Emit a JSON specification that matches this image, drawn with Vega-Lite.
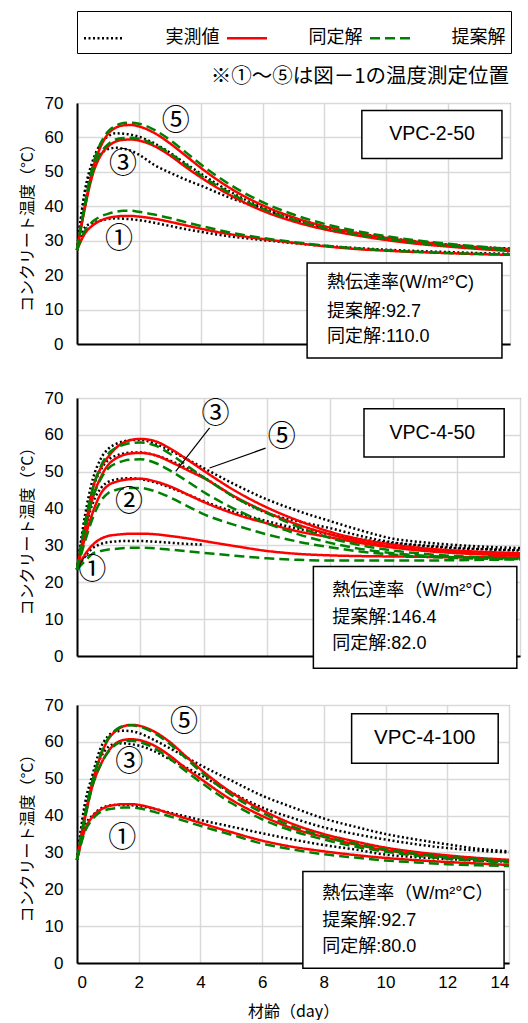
{
"$schema": "https://vega.github.io/schema/vega-lite/v6.json",
"padding": {"left": 18, "top": 10, "right": 0, "bottom": 0},
"config": {
 "font": "Liberation Sans, Noto Sans CJK JP",
 "view": {"stroke": "#404040", "strokeWidth": 1},
 "axis": {"gridColor": "#d9d9d9", "gridWidth": 1.5, "domainColor": "#000000", "domainWidth": 2, "ticks": false, "labelFontSize": 17, "labelColor": "#000000", "titleFontSize": 16, "titleFontWeight": "normal", "titleColor": "#000000", "labelFont": "Liberation Sans", "titleFont": "Noto Sans CJK JP", "labelPadding": 14, "titlePadding": 9, "labelOverlap": false},
 "text": {"font": "Liberation Sans, Noto Sans CJK JP", "fontSize": 16, "color": "#000000"}
},
"datasets": {
"c": [
{"p":1,"k":"5","s":"実測値","d":0,"t":27.3},{"p":1,"k":"5","s":"実測値","d":0.25,"t":44.3},{"p":1,"k":"5","s":"実測値","d":0.5,"t":53},{"p":1,"k":"5","s":"実測値","d":0.75,"t":58},{"p":1,"k":"5","s":"実測値","d":1,"t":60.3},{"p":1,"k":"5","s":"実測値","d":1.25,"t":61.2},{"p":1,"k":"5","s":"実測値","d":1.5,"t":61.1},{"p":1,"k":"5","s":"実測値","d":1.75,"t":60.8},{"p":1,"k":"5","s":"実測値","d":2,"t":60.2},{"p":1,"k":"5","s":"実測値","d":2.5,"t":58.3},{"p":1,"k":"5","s":"実測値","d":3,"t":55.6},{"p":1,"k":"5","s":"実測値","d":3.5,"t":52.5},{"p":1,"k":"5","s":"実測値","d":4,"t":49.5},{"p":1,"k":"5","s":"実測値","d":5,"t":44},{"p":1,"k":"5","s":"実測値","d":6,"t":39.6},{"p":1,"k":"5","s":"実測値","d":7,"t":36.4},{"p":1,"k":"5","s":"実測値","d":8,"t":34.1},{"p":1,"k":"5","s":"実測値","d":9,"t":32.3},{"p":1,"k":"5","s":"実測値","d":10,"t":30.9},{"p":1,"k":"5","s":"実測値","d":11,"t":29.8},{"p":1,"k":"5","s":"実測値","d":12,"t":28.9},{"p":1,"k":"5","s":"実測値","d":13,"t":28.2},{"p":1,"k":"5","s":"実測値","d":14,"t":27.7},
{"p":1,"k":"3","s":"実測値","d":0,"t":27.3},{"p":1,"k":"3","s":"実測値","d":0.25,"t":43.5},{"p":1,"k":"3","s":"実測値","d":0.5,"t":51.5},{"p":1,"k":"3","s":"実測値","d":0.75,"t":55},{"p":1,"k":"3","s":"実測値","d":1,"t":56.6},{"p":1,"k":"3","s":"実測値","d":1.25,"t":57},{"p":1,"k":"3","s":"実測値","d":1.5,"t":56.7},{"p":1,"k":"3","s":"実測値","d":1.75,"t":56.1},{"p":1,"k":"3","s":"実測値","d":2,"t":55},{"p":1,"k":"3","s":"実測値","d":2.5,"t":52},{"p":1,"k":"3","s":"実測値","d":3,"t":49.8},{"p":1,"k":"3","s":"実測値","d":3.5,"t":47.8},{"p":1,"k":"3","s":"実測値","d":4,"t":46},{"p":1,"k":"3","s":"実測値","d":5,"t":42.3},{"p":1,"k":"3","s":"実測値","d":6,"t":39.3},{"p":1,"k":"3","s":"実測値","d":7,"t":36.2},{"p":1,"k":"3","s":"実測値","d":8,"t":33.8},{"p":1,"k":"3","s":"実測値","d":9,"t":32},{"p":1,"k":"3","s":"実測値","d":10,"t":30.6},{"p":1,"k":"3","s":"実測値","d":11,"t":29.5},{"p":1,"k":"3","s":"実測値","d":12,"t":28.6},{"p":1,"k":"3","s":"実測値","d":13,"t":28},{"p":1,"k":"3","s":"実測値","d":14,"t":27.6},
{"p":1,"k":"1","s":"実測値","d":0,"t":27.3},{"p":1,"k":"1","s":"実測値","d":0.25,"t":33.8},{"p":1,"k":"1","s":"実測値","d":0.5,"t":35.2},{"p":1,"k":"1","s":"実測値","d":0.75,"t":35.8},{"p":1,"k":"1","s":"実測値","d":1,"t":36.3},{"p":1,"k":"1","s":"実測値","d":1.25,"t":36.5},{"p":1,"k":"1","s":"実測値","d":1.5,"t":36.4},{"p":1,"k":"1","s":"実測値","d":1.75,"t":36.2},{"p":1,"k":"1","s":"実測値","d":2,"t":36},{"p":1,"k":"1","s":"実測値","d":2.5,"t":35.2},{"p":1,"k":"1","s":"実測値","d":3,"t":34.3},{"p":1,"k":"1","s":"実測値","d":3.5,"t":33.4},{"p":1,"k":"1","s":"実測値","d":4,"t":32.6},{"p":1,"k":"1","s":"実測値","d":5,"t":31.2},{"p":1,"k":"1","s":"実測値","d":6,"t":30.2},{"p":1,"k":"1","s":"実測値","d":7,"t":29.3},{"p":1,"k":"1","s":"実測値","d":8,"t":28.5},{"p":1,"k":"1","s":"実測値","d":9,"t":27.9},{"p":1,"k":"1","s":"実測値","d":10,"t":27.4},{"p":1,"k":"1","s":"実測値","d":11,"t":27},{"p":1,"k":"1","s":"実測値","d":12,"t":26.7},{"p":1,"k":"1","s":"実測値","d":13,"t":26.4},{"p":1,"k":"1","s":"実測値","d":14,"t":26.2},
{"p":1,"k":"5","s":"同定解","d":0,"t":27.3},{"p":1,"k":"5","s":"同定解","d":0.25,"t":39.7},{"p":1,"k":"5","s":"同定解","d":0.5,"t":50.5},{"p":1,"k":"5","s":"同定解","d":0.75,"t":57},{"p":1,"k":"5","s":"同定解","d":1,"t":61},{"p":1,"k":"5","s":"同定解","d":1.25,"t":62.8},{"p":1,"k":"5","s":"同定解","d":1.5,"t":63.5},{"p":1,"k":"5","s":"同定解","d":1.75,"t":63.6},{"p":1,"k":"5","s":"同定解","d":2,"t":63.2},{"p":1,"k":"5","s":"同定解","d":2.5,"t":61.3},{"p":1,"k":"5","s":"同定解","d":3,"t":58.3},{"p":1,"k":"5","s":"同定解","d":3.5,"t":54.8},{"p":1,"k":"5","s":"同定解","d":4,"t":51.2},{"p":1,"k":"5","s":"同定解","d":5,"t":45},{"p":1,"k":"5","s":"同定解","d":6,"t":40.3},{"p":1,"k":"5","s":"同定解","d":7,"t":36.8},{"p":1,"k":"5","s":"同定解","d":8,"t":34.2},{"p":1,"k":"5","s":"同定解","d":9,"t":32.3},{"p":1,"k":"5","s":"同定解","d":10,"t":30.8},{"p":1,"k":"5","s":"同定解","d":11,"t":29.7},{"p":1,"k":"5","s":"同定解","d":12,"t":28.8},{"p":1,"k":"5","s":"同定解","d":13,"t":28.1},{"p":1,"k":"5","s":"同定解","d":14,"t":27.5},
{"p":1,"k":"3","s":"同定解","d":0,"t":27.3},{"p":1,"k":"3","s":"同定解","d":0.25,"t":39.3},{"p":1,"k":"3","s":"同定解","d":0.5,"t":49},{"p":1,"k":"3","s":"同定解","d":0.75,"t":54.5},{"p":1,"k":"3","s":"同定解","d":1,"t":57.3},{"p":1,"k":"3","s":"同定解","d":1.25,"t":58.8},{"p":1,"k":"3","s":"同定解","d":1.5,"t":59.3},{"p":1,"k":"3","s":"同定解","d":1.75,"t":59.4},{"p":1,"k":"3","s":"同定解","d":2,"t":59.1},{"p":1,"k":"3","s":"同定解","d":2.5,"t":57.5},{"p":1,"k":"3","s":"同定解","d":3,"t":54.8},{"p":1,"k":"3","s":"同定解","d":3.5,"t":51.5},{"p":1,"k":"3","s":"同定解","d":4,"t":48.4},{"p":1,"k":"3","s":"同定解","d":5,"t":43},{"p":1,"k":"3","s":"同定解","d":6,"t":38.7},{"p":1,"k":"3","s":"同定解","d":7,"t":35.6},{"p":1,"k":"3","s":"同定解","d":8,"t":33.3},{"p":1,"k":"3","s":"同定解","d":9,"t":31.6},{"p":1,"k":"3","s":"同定解","d":10,"t":30.2},{"p":1,"k":"3","s":"同定解","d":11,"t":29.1},{"p":1,"k":"3","s":"同定解","d":12,"t":28.3},{"p":1,"k":"3","s":"同定解","d":13,"t":27.6},{"p":1,"k":"3","s":"同定解","d":14,"t":27},
{"p":1,"k":"1","s":"同定解","d":0,"t":27.3},{"p":1,"k":"1","s":"同定解","d":0.25,"t":32},{"p":1,"k":"1","s":"同定解","d":0.5,"t":34.4},{"p":1,"k":"1","s":"同定解","d":0.75,"t":35.8},{"p":1,"k":"1","s":"同定解","d":1,"t":36.6},{"p":1,"k":"1","s":"同定解","d":1.25,"t":37},{"p":1,"k":"1","s":"同定解","d":1.5,"t":37.2},{"p":1,"k":"1","s":"同定解","d":1.75,"t":37.2},{"p":1,"k":"1","s":"同定解","d":2,"t":37},{"p":1,"k":"1","s":"同定解","d":2.5,"t":36.4},{"p":1,"k":"1","s":"同定解","d":3,"t":35.5},{"p":1,"k":"1","s":"同定解","d":3.5,"t":34.5},{"p":1,"k":"1","s":"同定解","d":4,"t":33.5},{"p":1,"k":"1","s":"同定解","d":5,"t":31.8},{"p":1,"k":"1","s":"同定解","d":6,"t":30.5},{"p":1,"k":"1","s":"同定解","d":7,"t":29.4},{"p":1,"k":"1","s":"同定解","d":8,"t":28.4},{"p":1,"k":"1","s":"同定解","d":9,"t":27.6},{"p":1,"k":"1","s":"同定解","d":10,"t":27.1},{"p":1,"k":"1","s":"同定解","d":11,"t":26.7},{"p":1,"k":"1","s":"同定解","d":12,"t":26.4},{"p":1,"k":"1","s":"同定解","d":13,"t":26.1},{"p":1,"k":"1","s":"同定解","d":14,"t":25.9},
{"p":1,"k":"5","s":"提案解","d":0,"t":27.3},{"p":1,"k":"5","s":"提案解","d":0.25,"t":40.5},{"p":1,"k":"5","s":"提案解","d":0.5,"t":51.5},{"p":1,"k":"5","s":"提案解","d":0.75,"t":58},{"p":1,"k":"5","s":"提案解","d":1,"t":61.7},{"p":1,"k":"5","s":"提案解","d":1.25,"t":63.4},{"p":1,"k":"5","s":"提案解","d":1.5,"t":64.2},{"p":1,"k":"5","s":"提案解","d":1.75,"t":64.3},{"p":1,"k":"5","s":"提案解","d":2,"t":64},{"p":1,"k":"5","s":"提案解","d":2.5,"t":62.2},{"p":1,"k":"5","s":"提案解","d":3,"t":59.3},{"p":1,"k":"5","s":"提案解","d":3.5,"t":55.8},{"p":1,"k":"5","s":"提案解","d":4,"t":52.2},{"p":1,"k":"5","s":"提案解","d":5,"t":46},{"p":1,"k":"5","s":"提案解","d":6,"t":41.2},{"p":1,"k":"5","s":"提案解","d":7,"t":37.6},{"p":1,"k":"5","s":"提案解","d":8,"t":34.9},{"p":1,"k":"5","s":"提案解","d":9,"t":32.9},{"p":1,"k":"5","s":"提案解","d":10,"t":31.3},{"p":1,"k":"5","s":"提案解","d":11,"t":30.1},{"p":1,"k":"5","s":"提案解","d":12,"t":29.1},{"p":1,"k":"5","s":"提案解","d":13,"t":28.3},{"p":1,"k":"5","s":"提案解","d":14,"t":27.6},
{"p":1,"k":"3","s":"提案解","d":0,"t":27.3},{"p":1,"k":"3","s":"提案解","d":0.25,"t":39.8},{"p":1,"k":"3","s":"提案解","d":0.5,"t":49.8},{"p":1,"k":"3","s":"提案解","d":0.75,"t":55.3},{"p":1,"k":"3","s":"提案解","d":1,"t":58},{"p":1,"k":"3","s":"提案解","d":1.25,"t":59.4},{"p":1,"k":"3","s":"提案解","d":1.5,"t":59.8},{"p":1,"k":"3","s":"提案解","d":1.75,"t":59.9},{"p":1,"k":"3","s":"提案解","d":2,"t":59.6},{"p":1,"k":"3","s":"提案解","d":2.5,"t":58},{"p":1,"k":"3","s":"提案解","d":3,"t":55.4},{"p":1,"k":"3","s":"提案解","d":3.5,"t":52.2},{"p":1,"k":"3","s":"提案解","d":4,"t":49},{"p":1,"k":"3","s":"提案解","d":5,"t":43.6},{"p":1,"k":"3","s":"提案解","d":6,"t":39.3},{"p":1,"k":"3","s":"提案解","d":7,"t":36.1},{"p":1,"k":"3","s":"提案解","d":8,"t":33.7},{"p":1,"k":"3","s":"提案解","d":9,"t":31.9},{"p":1,"k":"3","s":"提案解","d":10,"t":30.5},{"p":1,"k":"3","s":"提案解","d":11,"t":29.4},{"p":1,"k":"3","s":"提案解","d":12,"t":28.5},{"p":1,"k":"3","s":"提案解","d":13,"t":27.8},{"p":1,"k":"3","s":"提案解","d":14,"t":27.2},
{"p":1,"k":"1","s":"提案解","d":0,"t":27.3},{"p":1,"k":"1","s":"提案解","d":0.25,"t":32.8},{"p":1,"k":"1","s":"提案解","d":0.5,"t":35.5},{"p":1,"k":"1","s":"提案解","d":0.75,"t":37},{"p":1,"k":"1","s":"提案解","d":1,"t":37.8},{"p":1,"k":"1","s":"提案解","d":1.25,"t":38.4},{"p":1,"k":"1","s":"提案解","d":1.5,"t":38.7},{"p":1,"k":"1","s":"提案解","d":1.75,"t":38.7},{"p":1,"k":"1","s":"提案解","d":2,"t":38.4},{"p":1,"k":"1","s":"提案解","d":2.5,"t":37.6},{"p":1,"k":"1","s":"提案解","d":3,"t":36.6},{"p":1,"k":"1","s":"提案解","d":3.5,"t":35.4},{"p":1,"k":"1","s":"提案解","d":4,"t":34.3},{"p":1,"k":"1","s":"提案解","d":5,"t":32.3},{"p":1,"k":"1","s":"提案解","d":6,"t":30.8},{"p":1,"k":"1","s":"提案解","d":7,"t":29.6},{"p":1,"k":"1","s":"提案解","d":8,"t":28.6},{"p":1,"k":"1","s":"提案解","d":9,"t":27.8},{"p":1,"k":"1","s":"提案解","d":10,"t":27.2},{"p":1,"k":"1","s":"提案解","d":11,"t":26.8},{"p":1,"k":"1","s":"提案解","d":12,"t":26.4},{"p":1,"k":"1","s":"提案解","d":13,"t":26.2},{"p":1,"k":"1","s":"提案解","d":14,"t":26},

{"p":2,"k":"5","s":"実測値","d":0,"t":23.5},{"p":2,"k":"5","s":"実測値","d":0.25,"t":38},{"p":2,"k":"5","s":"実測値","d":0.5,"t":48},{"p":2,"k":"5","s":"実測値","d":0.75,"t":53.5},{"p":2,"k":"5","s":"実測値","d":1,"t":56.3},{"p":2,"k":"5","s":"実測値","d":1.25,"t":57.6},{"p":2,"k":"5","s":"実測値","d":1.5,"t":58.3},{"p":2,"k":"5","s":"実測値","d":1.75,"t":58.6},{"p":2,"k":"5","s":"実測値","d":2,"t":58.6},{"p":2,"k":"5","s":"実測値","d":2.5,"t":57.5},{"p":2,"k":"5","s":"実測値","d":3,"t":55.5},{"p":2,"k":"5","s":"実測値","d":3.5,"t":53.3},{"p":2,"k":"5","s":"実測値","d":4,"t":51},{"p":2,"k":"5","s":"実測値","d":5,"t":46.5},{"p":2,"k":"5","s":"実測値","d":6,"t":42.5},{"p":2,"k":"5","s":"実測値","d":7,"t":39.3},{"p":2,"k":"5","s":"実測値","d":8,"t":36.6},{"p":2,"k":"5","s":"実測値","d":9,"t":34},{"p":2,"k":"5","s":"実測値","d":10,"t":31.8},{"p":2,"k":"5","s":"実測値","d":11,"t":30.8},{"p":2,"k":"5","s":"実測値","d":12,"t":30.1},{"p":2,"k":"5","s":"実測値","d":13,"t":29.6},{"p":2,"k":"5","s":"実測値","d":14,"t":29.3},
{"p":2,"k":"3","s":"実測値","d":0,"t":23.5},{"p":2,"k":"3","s":"実測値","d":0.25,"t":37},{"p":2,"k":"3","s":"実測値","d":0.5,"t":45.5},{"p":2,"k":"3","s":"実測値","d":0.75,"t":50.5},{"p":2,"k":"3","s":"実測値","d":1,"t":53.3},{"p":2,"k":"3","s":"実測値","d":1.25,"t":54.4},{"p":2,"k":"3","s":"実測値","d":1.5,"t":55},{"p":2,"k":"3","s":"実測値","d":1.75,"t":55.2},{"p":2,"k":"3","s":"実測値","d":2,"t":55.2},{"p":2,"k":"3","s":"実測値","d":2.5,"t":54.4},{"p":2,"k":"3","s":"実測値","d":3,"t":52.8},{"p":2,"k":"3","s":"実測値","d":3.5,"t":50.8},{"p":2,"k":"3","s":"実測値","d":4,"t":48.5},{"p":2,"k":"3","s":"実測値","d":5,"t":43},{"p":2,"k":"3","s":"実測値","d":6,"t":38.8},{"p":2,"k":"3","s":"実測値","d":7,"t":36.5},{"p":2,"k":"3","s":"実測値","d":8,"t":34.7},{"p":2,"k":"3","s":"実測値","d":9,"t":32.5},{"p":2,"k":"3","s":"実測値","d":10,"t":30.8},{"p":2,"k":"3","s":"実測値","d":11,"t":30},{"p":2,"k":"3","s":"実測値","d":12,"t":29.4},{"p":2,"k":"3","s":"実測値","d":13,"t":29},{"p":2,"k":"3","s":"実測値","d":14,"t":28.8},
{"p":2,"k":"2","s":"実測値","d":0,"t":23.5},{"p":2,"k":"2","s":"実測値","d":0.25,"t":34},{"p":2,"k":"2","s":"実測値","d":0.5,"t":41.5},{"p":2,"k":"2","s":"実測値","d":0.75,"t":45.5},{"p":2,"k":"2","s":"実測値","d":1,"t":47.3},{"p":2,"k":"2","s":"実測値","d":1.25,"t":47.9},{"p":2,"k":"2","s":"実測値","d":1.5,"t":48.2},{"p":2,"k":"2","s":"実測値","d":1.75,"t":48.2},{"p":2,"k":"2","s":"実測値","d":2,"t":48},{"p":2,"k":"2","s":"実測値","d":2.5,"t":47},{"p":2,"k":"2","s":"実測値","d":3,"t":45.5},{"p":2,"k":"2","s":"実測値","d":3.5,"t":43.8},{"p":2,"k":"2","s":"実測値","d":4,"t":42},{"p":2,"k":"2","s":"実測値","d":5,"t":39},{"p":2,"k":"2","s":"実測値","d":6,"t":36.6},{"p":2,"k":"2","s":"実測値","d":7,"t":34.5},{"p":2,"k":"2","s":"実測値","d":8,"t":33},{"p":2,"k":"2","s":"実測値","d":9,"t":31.6},{"p":2,"k":"2","s":"実測値","d":10,"t":30.6},{"p":2,"k":"2","s":"実測値","d":11,"t":29.8},{"p":2,"k":"2","s":"実測値","d":12,"t":29.2},{"p":2,"k":"2","s":"実測値","d":13,"t":28.9},{"p":2,"k":"2","s":"実測値","d":14,"t":28.6},
{"p":2,"k":"1","s":"実測値","d":0,"t":23.5},{"p":2,"k":"1","s":"実測値","d":0.25,"t":27},{"p":2,"k":"1","s":"実測値","d":0.5,"t":29.3},{"p":2,"k":"1","s":"実測値","d":0.75,"t":30.4},{"p":2,"k":"1","s":"実測値","d":1,"t":30.9},{"p":2,"k":"1","s":"実測値","d":1.25,"t":31.1},{"p":2,"k":"1","s":"実測値","d":1.5,"t":31.2},{"p":2,"k":"1","s":"実測値","d":1.75,"t":31.2},{"p":2,"k":"1","s":"実測値","d":2,"t":31.2},{"p":2,"k":"1","s":"実測値","d":2.5,"t":31},{"p":2,"k":"1","s":"実測値","d":3,"t":30.7},{"p":2,"k":"1","s":"実測値","d":3.5,"t":30.4},{"p":2,"k":"1","s":"実測値","d":4,"t":30.2},
{"p":2,"k":"5","s":"同定解","d":0,"t":23.5},{"p":2,"k":"5","s":"同定解","d":0.25,"t":34.5},{"p":2,"k":"5","s":"同定解","d":0.5,"t":45.5},{"p":2,"k":"5","s":"同定解","d":0.75,"t":51},{"p":2,"k":"5","s":"同定解","d":1,"t":54.2},{"p":2,"k":"5","s":"同定解","d":1.25,"t":56.6},{"p":2,"k":"5","s":"同定解","d":1.5,"t":58},{"p":2,"k":"5","s":"同定解","d":1.75,"t":58.7},{"p":2,"k":"5","s":"同定解","d":2,"t":58.9},{"p":2,"k":"5","s":"同定解","d":2.5,"t":58.2},{"p":2,"k":"5","s":"同定解","d":3,"t":56},{"p":2,"k":"5","s":"同定解","d":3.5,"t":53.2},{"p":2,"k":"5","s":"同定解","d":4,"t":50.3},{"p":2,"k":"5","s":"同定解","d":5,"t":44.8},{"p":2,"k":"5","s":"同定解","d":6,"t":40.3},{"p":2,"k":"5","s":"同定解","d":7,"t":36.7},{"p":2,"k":"5","s":"同定解","d":8,"t":33.7},{"p":2,"k":"5","s":"同定解","d":9,"t":31.6},{"p":2,"k":"5","s":"同定解","d":10,"t":30.2},{"p":2,"k":"5","s":"同定解","d":11,"t":29.2},{"p":2,"k":"5","s":"同定解","d":12,"t":28.6},{"p":2,"k":"5","s":"同定解","d":13,"t":28.2},{"p":2,"k":"5","s":"同定解","d":14,"t":27.9},
{"p":2,"k":"3","s":"同定解","d":0,"t":23.5},{"p":2,"k":"3","s":"同定解","d":0.25,"t":34},{"p":2,"k":"3","s":"同定解","d":0.5,"t":43},{"p":2,"k":"3","s":"同定解","d":0.75,"t":48.5},{"p":2,"k":"3","s":"同定解","d":1,"t":52},{"p":2,"k":"3","s":"同定解","d":1.25,"t":53.7},{"p":2,"k":"3","s":"同定解","d":1.5,"t":54.6},{"p":2,"k":"3","s":"同定解","d":1.75,"t":55},{"p":2,"k":"3","s":"同定解","d":2,"t":55.1},{"p":2,"k":"3","s":"同定解","d":2.5,"t":54.4},{"p":2,"k":"3","s":"同定解","d":3,"t":52.5},{"p":2,"k":"3","s":"同定解","d":3.5,"t":50.4},{"p":2,"k":"3","s":"同定解","d":4,"t":48.3},{"p":2,"k":"3","s":"同定解","d":5,"t":43.2},{"p":2,"k":"3","s":"同定解","d":6,"t":39},{"p":2,"k":"3","s":"同定解","d":7,"t":35.6},{"p":2,"k":"3","s":"同定解","d":8,"t":33},{"p":2,"k":"3","s":"同定解","d":9,"t":31},{"p":2,"k":"3","s":"同定解","d":10,"t":29.6},{"p":2,"k":"3","s":"同定解","d":11,"t":28.7},{"p":2,"k":"3","s":"同定解","d":12,"t":28.1},{"p":2,"k":"3","s":"同定解","d":13,"t":27.7},{"p":2,"k":"3","s":"同定解","d":14,"t":27.4},
{"p":2,"k":"2","s":"同定解","d":0,"t":23.5},{"p":2,"k":"2","s":"同定解","d":0.25,"t":32},{"p":2,"k":"2","s":"同定解","d":0.5,"t":39},{"p":2,"k":"2","s":"同定解","d":0.75,"t":44},{"p":2,"k":"2","s":"同定解","d":1,"t":46.4},{"p":2,"k":"2","s":"同定解","d":1.25,"t":47.3},{"p":2,"k":"2","s":"同定解","d":1.5,"t":47.8},{"p":2,"k":"2","s":"同定解","d":1.75,"t":48},{"p":2,"k":"2","s":"同定解","d":2,"t":48.1},{"p":2,"k":"2","s":"同定解","d":2.5,"t":47.3},{"p":2,"k":"2","s":"同定解","d":3,"t":45.8},{"p":2,"k":"2","s":"同定解","d":3.5,"t":43.8},{"p":2,"k":"2","s":"同定解","d":4,"t":41.8},{"p":2,"k":"2","s":"同定解","d":5,"t":38.5},{"p":2,"k":"2","s":"同定解","d":6,"t":36},{"p":2,"k":"2","s":"同定解","d":7,"t":33.8},{"p":2,"k":"2","s":"同定解","d":8,"t":32.2},{"p":2,"k":"2","s":"同定解","d":9,"t":30.6},{"p":2,"k":"2","s":"同定解","d":10,"t":29.4},{"p":2,"k":"2","s":"同定解","d":11,"t":28.5},{"p":2,"k":"2","s":"同定解","d":12,"t":27.9},{"p":2,"k":"2","s":"同定解","d":13,"t":27.5},{"p":2,"k":"2","s":"同定解","d":14,"t":27.2},
{"p":2,"k":"1","s":"同定解","d":0,"t":23.5},{"p":2,"k":"1","s":"同定解","d":0.25,"t":27.5},{"p":2,"k":"1","s":"同定解","d":0.5,"t":30.2},{"p":2,"k":"1","s":"同定解","d":0.75,"t":31.8},{"p":2,"k":"1","s":"同定解","d":1,"t":32.6},{"p":2,"k":"1","s":"同定解","d":1.25,"t":32.9},{"p":2,"k":"1","s":"同定解","d":1.5,"t":33.1},{"p":2,"k":"1","s":"同定解","d":1.75,"t":33.2},{"p":2,"k":"1","s":"同定解","d":2,"t":33.2},{"p":2,"k":"1","s":"同定解","d":2.5,"t":33},{"p":2,"k":"1","s":"同定解","d":3,"t":32.5},{"p":2,"k":"1","s":"同定解","d":3.5,"t":31.9},{"p":2,"k":"1","s":"同定解","d":4,"t":31.2},{"p":2,"k":"1","s":"同定解","d":5,"t":29.8},{"p":2,"k":"1","s":"同定解","d":6,"t":28.5},{"p":2,"k":"1","s":"同定解","d":7,"t":27.7},{"p":2,"k":"1","s":"同定解","d":8,"t":27.3},{"p":2,"k":"1","s":"同定解","d":9,"t":27.1},{"p":2,"k":"1","s":"同定解","d":10,"t":27},{"p":2,"k":"1","s":"同定解","d":11,"t":26.9},{"p":2,"k":"1","s":"同定解","d":12,"t":26.8},{"p":2,"k":"1","s":"同定解","d":13,"t":26.8},{"p":2,"k":"1","s":"同定解","d":14,"t":26.7},
{"p":2,"k":"5","s":"提案解","d":0,"t":23.5},{"p":2,"k":"5","s":"提案解","d":0.25,"t":36},{"p":2,"k":"5","s":"提案解","d":0.5,"t":45.5},{"p":2,"k":"5","s":"提案解","d":0.75,"t":51.5},{"p":2,"k":"5","s":"提案解","d":1,"t":55},{"p":2,"k":"5","s":"提案解","d":1.25,"t":56.6},{"p":2,"k":"5","s":"提案解","d":1.5,"t":57.4},{"p":2,"k":"5","s":"提案解","d":1.75,"t":57.8},{"p":2,"k":"5","s":"提案解","d":2,"t":57.9},{"p":2,"k":"5","s":"提案解","d":2.5,"t":57},{"p":2,"k":"5","s":"提案解","d":3,"t":54.5},{"p":2,"k":"5","s":"提案解","d":3.5,"t":51.5},{"p":2,"k":"5","s":"提案解","d":4,"t":48.5},{"p":2,"k":"5","s":"提案解","d":5,"t":43},{"p":2,"k":"5","s":"提案解","d":6,"t":38.8},{"p":2,"k":"5","s":"提案解","d":7,"t":35},{"p":2,"k":"5","s":"提案解","d":8,"t":32},{"p":2,"k":"5","s":"提案解","d":9,"t":30},{"p":2,"k":"5","s":"提案解","d":10,"t":28.6},{"p":2,"k":"5","s":"提案解","d":11,"t":27.7},{"p":2,"k":"5","s":"提案解","d":12,"t":27.1},{"p":2,"k":"5","s":"提案解","d":13,"t":26.7},{"p":2,"k":"5","s":"提案解","d":14,"t":26.5},
{"p":2,"k":"3","s":"提案解","d":0,"t":23.5},{"p":2,"k":"3","s":"提案解","d":0.25,"t":35},{"p":2,"k":"3","s":"提案解","d":0.5,"t":43},{"p":2,"k":"3","s":"提案解","d":0.75,"t":48},{"p":2,"k":"3","s":"提案解","d":1,"t":51},{"p":2,"k":"3","s":"提案解","d":1.25,"t":52.3},{"p":2,"k":"3","s":"提案解","d":1.5,"t":53},{"p":2,"k":"3","s":"提案解","d":1.75,"t":53.3},{"p":2,"k":"3","s":"提案解","d":2,"t":53.4},{"p":2,"k":"3","s":"提案解","d":2.5,"t":52.3},{"p":2,"k":"3","s":"提案解","d":3,"t":50},{"p":2,"k":"3","s":"提案解","d":3.5,"t":47.3},{"p":2,"k":"3","s":"提案解","d":4,"t":44.5},{"p":2,"k":"3","s":"提案解","d":5,"t":39.8},{"p":2,"k":"3","s":"提案解","d":6,"t":36},{"p":2,"k":"3","s":"提案解","d":7,"t":33},{"p":2,"k":"3","s":"提案解","d":8,"t":30.7},{"p":2,"k":"3","s":"提案解","d":9,"t":29},{"p":2,"k":"3","s":"提案解","d":10,"t":27.9},{"p":2,"k":"3","s":"提案解","d":11,"t":27.2},{"p":2,"k":"3","s":"提案解","d":12,"t":26.8},{"p":2,"k":"3","s":"提案解","d":13,"t":26.5},{"p":2,"k":"3","s":"提案解","d":14,"t":26.4},
{"p":2,"k":"2","s":"提案解","d":0,"t":23.5},{"p":2,"k":"2","s":"提案解","d":0.25,"t":31},{"p":2,"k":"2","s":"提案解","d":0.5,"t":37.5},{"p":2,"k":"2","s":"提案解","d":0.75,"t":42},{"p":2,"k":"2","s":"提案解","d":1,"t":44.3},{"p":2,"k":"2","s":"提案解","d":1.25,"t":45.1},{"p":2,"k":"2","s":"提案解","d":1.5,"t":45.5},{"p":2,"k":"2","s":"提案解","d":1.75,"t":45.6},{"p":2,"k":"2","s":"提案解","d":2,"t":45.6},{"p":2,"k":"2","s":"提案解","d":2.5,"t":44.6},{"p":2,"k":"2","s":"提案解","d":3,"t":42.8},{"p":2,"k":"2","s":"提案解","d":3.5,"t":40.6},{"p":2,"k":"2","s":"提案解","d":4,"t":38.5},{"p":2,"k":"2","s":"提案解","d":5,"t":35.5},{"p":2,"k":"2","s":"提案解","d":6,"t":33},{"p":2,"k":"2","s":"提案解","d":7,"t":31},{"p":2,"k":"2","s":"提案解","d":8,"t":29.5},{"p":2,"k":"2","s":"提案解","d":9,"t":28.3},{"p":2,"k":"2","s":"提案解","d":10,"t":27.5},{"p":2,"k":"2","s":"提案解","d":11,"t":26.9},{"p":2,"k":"2","s":"提案解","d":12,"t":26.6},{"p":2,"k":"2","s":"提案解","d":13,"t":26.4},{"p":2,"k":"2","s":"提案解","d":14,"t":26.3},
{"p":2,"k":"1","s":"提案解","d":0,"t":23.5},{"p":2,"k":"1","s":"提案解","d":0.25,"t":25.7},{"p":2,"k":"1","s":"提案解","d":0.5,"t":27.8},{"p":2,"k":"1","s":"提案解","d":0.75,"t":28.5},{"p":2,"k":"1","s":"提案解","d":1,"t":28.9},{"p":2,"k":"1","s":"提案解","d":1.25,"t":29.1},{"p":2,"k":"1","s":"提案解","d":1.5,"t":29.3},{"p":2,"k":"1","s":"提案解","d":1.75,"t":29.4},{"p":2,"k":"1","s":"提案解","d":2,"t":29.4},{"p":2,"k":"1","s":"提案解","d":2.5,"t":29.2},{"p":2,"k":"1","s":"提案解","d":3,"t":28.8},{"p":2,"k":"1","s":"提案解","d":3.5,"t":28.4},{"p":2,"k":"1","s":"提案解","d":4,"t":28},{"p":2,"k":"1","s":"提案解","d":5,"t":27.2},{"p":2,"k":"1","s":"提案解","d":6,"t":26.5},{"p":2,"k":"1","s":"提案解","d":7,"t":26.1},{"p":2,"k":"1","s":"提案解","d":8,"t":25.9},{"p":2,"k":"1","s":"提案解","d":9,"t":25.9},{"p":2,"k":"1","s":"提案解","d":10,"t":25.9},{"p":2,"k":"1","s":"提案解","d":11,"t":25.9},{"p":2,"k":"1","s":"提案解","d":12,"t":26},{"p":2,"k":"1","s":"提案解","d":13,"t":26.1},{"p":2,"k":"1","s":"提案解","d":14,"t":26.2},

{"p":3,"k":"5","s":"実測値","d":0,"t":28},{"p":3,"k":"5","s":"実測値","d":0.25,"t":43},{"p":3,"k":"5","s":"実測値","d":0.5,"t":51},{"p":3,"k":"5","s":"実測値","d":0.75,"t":58},{"p":3,"k":"5","s":"実測値","d":1,"t":61.5},{"p":3,"k":"5","s":"実測値","d":1.25,"t":62.8},{"p":3,"k":"5","s":"実測値","d":1.5,"t":63},{"p":3,"k":"5","s":"実測値","d":1.75,"t":62.9},{"p":3,"k":"5","s":"実測値","d":2,"t":62.4},{"p":3,"k":"5","s":"実測値","d":2.5,"t":60.5},{"p":3,"k":"5","s":"実測値","d":3,"t":58.3},{"p":3,"k":"5","s":"実測値","d":3.5,"t":56},{"p":3,"k":"5","s":"実測値","d":4,"t":53.7},{"p":3,"k":"5","s":"実測値","d":5,"t":49.5},{"p":3,"k":"5","s":"実測値","d":6,"t":45.4},{"p":3,"k":"5","s":"実測値","d":7,"t":42.2},{"p":3,"k":"5","s":"実測値","d":8,"t":39.2},{"p":3,"k":"5","s":"実測値","d":9,"t":37},{"p":3,"k":"5","s":"実測値","d":10,"t":35},{"p":3,"k":"5","s":"実測値","d":11,"t":33.5},{"p":3,"k":"5","s":"実測値","d":12,"t":32.2},{"p":3,"k":"5","s":"実測値","d":13,"t":31},{"p":3,"k":"5","s":"実測値","d":14,"t":30.3},
{"p":3,"k":"3","s":"実測値","d":0,"t":28},{"p":3,"k":"3","s":"実測値","d":0.25,"t":42},{"p":3,"k":"3","s":"実測値","d":0.5,"t":50},{"p":3,"k":"3","s":"実測値","d":0.75,"t":55.5},{"p":3,"k":"3","s":"実測値","d":1,"t":58.5},{"p":3,"k":"3","s":"実測値","d":1.25,"t":59.5},{"p":3,"k":"3","s":"実測値","d":1.5,"t":59.6},{"p":3,"k":"3","s":"実測値","d":1.75,"t":59.4},{"p":3,"k":"3","s":"実測値","d":2,"t":59},{"p":3,"k":"3","s":"実測値","d":2.5,"t":57.5},{"p":3,"k":"3","s":"実測値","d":3,"t":55.3},{"p":3,"k":"3","s":"実測値","d":3.5,"t":53.2},{"p":3,"k":"3","s":"実測値","d":4,"t":51},{"p":3,"k":"3","s":"実測値","d":5,"t":46.3},{"p":3,"k":"3","s":"実測値","d":6,"t":42.2},{"p":3,"k":"3","s":"実測値","d":7,"t":39.3},{"p":3,"k":"3","s":"実測値","d":8,"t":36.8},{"p":3,"k":"3","s":"実測値","d":9,"t":35},{"p":3,"k":"3","s":"実測値","d":10,"t":33.5},{"p":3,"k":"3","s":"実測値","d":11,"t":32.2},{"p":3,"k":"3","s":"実測値","d":12,"t":31.2},{"p":3,"k":"3","s":"実測値","d":13,"t":30.5},{"p":3,"k":"3","s":"実測値","d":14,"t":30},
{"p":3,"k":"1","s":"実測値","d":0,"t":28},{"p":3,"k":"1","s":"実測値","d":0.25,"t":37},{"p":3,"k":"1","s":"実測値","d":0.5,"t":40},{"p":3,"k":"1","s":"実測値","d":0.75,"t":41.8},{"p":3,"k":"1","s":"実測値","d":1,"t":42.6},{"p":3,"k":"1","s":"実測値","d":1.25,"t":42.9},{"p":3,"k":"1","s":"実測値","d":1.5,"t":42.9},{"p":3,"k":"1","s":"実測値","d":1.75,"t":42.8},{"p":3,"k":"1","s":"実測値","d":2,"t":42.6},{"p":3,"k":"1","s":"実測値","d":2.5,"t":41.8},{"p":3,"k":"1","s":"実測値","d":3,"t":40.8},{"p":3,"k":"1","s":"実測値","d":3.5,"t":39.8},{"p":3,"k":"1","s":"実測値","d":4,"t":38.8},{"p":3,"k":"1","s":"実測値","d":5,"t":37},{"p":3,"k":"1","s":"実測値","d":6,"t":35.2},{"p":3,"k":"1","s":"実測値","d":7,"t":33.5},{"p":3,"k":"1","s":"実測値","d":8,"t":32},{"p":3,"k":"1","s":"実測値","d":9,"t":30.8},{"p":3,"k":"1","s":"実測値","d":10,"t":29.4},{"p":3,"k":"1","s":"実測値","d":11,"t":28.7},{"p":3,"k":"1","s":"実測値","d":12,"t":28.2},{"p":3,"k":"1","s":"実測値","d":13,"t":27.8},{"p":3,"k":"1","s":"実測値","d":14,"t":27.5},
{"p":3,"k":"5","s":"同定解","d":0,"t":28},{"p":3,"k":"5","s":"同定解","d":0.25,"t":39.5},{"p":3,"k":"5","s":"同定解","d":0.5,"t":49},{"p":3,"k":"5","s":"同定解","d":0.75,"t":55.8},{"p":3,"k":"5","s":"同定解","d":1,"t":60.5},{"p":3,"k":"5","s":"同定解","d":1.25,"t":62.9},{"p":3,"k":"5","s":"同定解","d":1.5,"t":64.2},{"p":3,"k":"5","s":"同定解","d":1.75,"t":64.6},{"p":3,"k":"5","s":"同定解","d":2,"t":64.4},{"p":3,"k":"5","s":"同定解","d":2.5,"t":62.8},{"p":3,"k":"5","s":"同定解","d":3,"t":60},{"p":3,"k":"5","s":"同定解","d":3.5,"t":56.3},{"p":3,"k":"5","s":"同定解","d":4,"t":52.6},{"p":3,"k":"5","s":"同定解","d":5,"t":46.3},{"p":3,"k":"5","s":"同定解","d":6,"t":41.5},{"p":3,"k":"5","s":"同定解","d":7,"t":37.7},{"p":3,"k":"5","s":"同定解","d":8,"t":35},{"p":3,"k":"5","s":"同定解","d":9,"t":33},{"p":3,"k":"5","s":"同定解","d":10,"t":31.3},{"p":3,"k":"5","s":"同定解","d":11,"t":30.1},{"p":3,"k":"5","s":"同定解","d":12,"t":29.2},{"p":3,"k":"5","s":"同定解","d":13,"t":28.5},{"p":3,"k":"5","s":"同定解","d":14,"t":28},
{"p":3,"k":"3","s":"同定解","d":0,"t":28},{"p":3,"k":"3","s":"同定解","d":0.25,"t":39},{"p":3,"k":"3","s":"同定解","d":0.5,"t":48},{"p":3,"k":"3","s":"同定解","d":0.75,"t":53.5},{"p":3,"k":"3","s":"同定解","d":1,"t":57.3},{"p":3,"k":"3","s":"同定解","d":1.25,"t":59.5},{"p":3,"k":"3","s":"同定解","d":1.5,"t":60.5},{"p":3,"k":"3","s":"同定解","d":1.75,"t":60.7},{"p":3,"k":"3","s":"同定解","d":2,"t":60.5},{"p":3,"k":"3","s":"同定解","d":2.5,"t":59},{"p":3,"k":"3","s":"同定解","d":3,"t":56.3},{"p":3,"k":"3","s":"同定解","d":3.5,"t":53},{"p":3,"k":"3","s":"同定解","d":4,"t":50},{"p":3,"k":"3","s":"同定解","d":5,"t":44.3},{"p":3,"k":"3","s":"同定解","d":6,"t":39.9},{"p":3,"k":"3","s":"同定解","d":7,"t":36.5},{"p":3,"k":"3","s":"同定解","d":8,"t":34.2},{"p":3,"k":"3","s":"同定解","d":9,"t":32.2},{"p":3,"k":"3","s":"同定解","d":10,"t":30.6},{"p":3,"k":"3","s":"同定解","d":11,"t":29.5},{"p":3,"k":"3","s":"同定解","d":12,"t":28.7},{"p":3,"k":"3","s":"同定解","d":13,"t":28.1},{"p":3,"k":"3","s":"同定解","d":14,"t":27.6},
{"p":3,"k":"1","s":"同定解","d":0,"t":28},{"p":3,"k":"1","s":"同定解","d":0.25,"t":36},{"p":3,"k":"1","s":"同定解","d":0.5,"t":39.7},{"p":3,"k":"1","s":"同定解","d":0.75,"t":41.5},{"p":3,"k":"1","s":"同定解","d":1,"t":42.5},{"p":3,"k":"1","s":"同定解","d":1.25,"t":42.9},{"p":3,"k":"1","s":"同定解","d":1.5,"t":43.1},{"p":3,"k":"1","s":"同定解","d":1.75,"t":43.1},{"p":3,"k":"1","s":"同定解","d":2,"t":42.9},{"p":3,"k":"1","s":"同定解","d":2.5,"t":41.9},{"p":3,"k":"1","s":"同定解","d":3,"t":40.6},{"p":3,"k":"1","s":"同定解","d":3.5,"t":39.3},{"p":3,"k":"1","s":"同定解","d":4,"t":38},{"p":3,"k":"1","s":"同定解","d":5,"t":35.5},{"p":3,"k":"1","s":"同定解","d":6,"t":33.2},{"p":3,"k":"1","s":"同定解","d":7,"t":31.5},{"p":3,"k":"1","s":"同定解","d":8,"t":30.3},{"p":3,"k":"1","s":"同定解","d":9,"t":29.3},{"p":3,"k":"1","s":"同定解","d":10,"t":28.5},{"p":3,"k":"1","s":"同定解","d":11,"t":27.9},{"p":3,"k":"1","s":"同定解","d":12,"t":27.4},{"p":3,"k":"1","s":"同定解","d":13,"t":27},{"p":3,"k":"1","s":"同定解","d":14,"t":26.6},
{"p":3,"k":"5","s":"提案解","d":0,"t":28},{"p":3,"k":"5","s":"提案解","d":0.25,"t":40},{"p":3,"k":"5","s":"提案解","d":0.5,"t":49.5},{"p":3,"k":"5","s":"提案解","d":0.75,"t":56.3},{"p":3,"k":"5","s":"提案解","d":1,"t":60.8},{"p":3,"k":"5","s":"提案解","d":1.25,"t":63.2},{"p":3,"k":"5","s":"提案解","d":1.5,"t":64.3},{"p":3,"k":"5","s":"提案解","d":1.75,"t":64.5},{"p":3,"k":"5","s":"提案解","d":2,"t":64.2},{"p":3,"k":"5","s":"提案解","d":2.5,"t":62.4},{"p":3,"k":"5","s":"提案解","d":3,"t":59.5},{"p":3,"k":"5","s":"提案解","d":3.5,"t":55.8},{"p":3,"k":"5","s":"提案解","d":4,"t":52},{"p":3,"k":"5","s":"提案解","d":5,"t":45.6},{"p":3,"k":"5","s":"提案解","d":6,"t":40.8},{"p":3,"k":"5","s":"提案解","d":7,"t":37},{"p":3,"k":"5","s":"提案解","d":8,"t":34.4},{"p":3,"k":"5","s":"提案解","d":9,"t":32.4},{"p":3,"k":"5","s":"提案解","d":10,"t":30.8},{"p":3,"k":"5","s":"提案解","d":11,"t":29.6},{"p":3,"k":"5","s":"提案解","d":12,"t":28.8},{"p":3,"k":"5","s":"提案解","d":13,"t":28.2},{"p":3,"k":"5","s":"提案解","d":14,"t":27.7},
{"p":3,"k":"3","s":"提案解","d":0,"t":28},{"p":3,"k":"3","s":"提案解","d":0.25,"t":39},{"p":3,"k":"3","s":"提案解","d":0.5,"t":48},{"p":3,"k":"3","s":"提案解","d":0.75,"t":53.5},{"p":3,"k":"3","s":"提案解","d":1,"t":57.1},{"p":3,"k":"3","s":"提案解","d":1.25,"t":59.2},{"p":3,"k":"3","s":"提案解","d":1.5,"t":60.1},{"p":3,"k":"3","s":"提案解","d":1.75,"t":60.3},{"p":3,"k":"3","s":"提案解","d":2,"t":60},{"p":3,"k":"3","s":"提案解","d":2.5,"t":58.3},{"p":3,"k":"3","s":"提案解","d":3,"t":55.5},{"p":3,"k":"3","s":"提案解","d":3.5,"t":52.2},{"p":3,"k":"3","s":"提案解","d":4,"t":49.1},{"p":3,"k":"3","s":"提案解","d":5,"t":43.4},{"p":3,"k":"3","s":"提案解","d":6,"t":39},{"p":3,"k":"3","s":"提案解","d":7,"t":35.8},{"p":3,"k":"3","s":"提案解","d":8,"t":33.5},{"p":3,"k":"3","s":"提案解","d":9,"t":31.6},{"p":3,"k":"3","s":"提案解","d":10,"t":30.2},{"p":3,"k":"3","s":"提案解","d":11,"t":29.1},{"p":3,"k":"3","s":"提案解","d":12,"t":28.3},{"p":3,"k":"3","s":"提案解","d":13,"t":27.7},{"p":3,"k":"3","s":"提案解","d":14,"t":27.3},
{"p":3,"k":"1","s":"提案解","d":0,"t":28},{"p":3,"k":"1","s":"提案解","d":0.25,"t":35.5},{"p":3,"k":"1","s":"提案解","d":0.5,"t":39},{"p":3,"k":"1","s":"提案解","d":0.75,"t":40.9},{"p":3,"k":"1","s":"提案解","d":1,"t":41.7},{"p":3,"k":"1","s":"提案解","d":1.25,"t":42},{"p":3,"k":"1","s":"提案解","d":1.5,"t":42.2},{"p":3,"k":"1","s":"提案解","d":1.75,"t":42.2},{"p":3,"k":"1","s":"提案解","d":2,"t":42},{"p":3,"k":"1","s":"提案解","d":2.5,"t":41},{"p":3,"k":"1","s":"提案解","d":3,"t":39.8},{"p":3,"k":"1","s":"提案解","d":3.5,"t":38.5},{"p":3,"k":"1","s":"提案解","d":4,"t":37.2},{"p":3,"k":"1","s":"提案解","d":5,"t":34.8},{"p":3,"k":"1","s":"提案解","d":6,"t":32.4},{"p":3,"k":"1","s":"提案解","d":7,"t":30.8},{"p":3,"k":"1","s":"提案解","d":8,"t":29.5},{"p":3,"k":"1","s":"提案解","d":9,"t":28.6},{"p":3,"k":"1","s":"提案解","d":10,"t":27.8},{"p":3,"k":"1","s":"提案解","d":11,"t":27.3},{"p":3,"k":"1","s":"提案解","d":12,"t":26.8},{"p":3,"k":"1","s":"提案解","d":13,"t":26.5},{"p":3,"k":"1","s":"提案解","d":14,"t":26.3}
],
"circ": [
{"p":1,"label":"⑤","d":3.19,"t":64.6},{"p":1,"label":"③","d":1.49,"t":52},{"p":1,"label":"①","d":1.36,"t":30.2},
{"p":2,"label":"③","d":4.38,"t":65.5},{"p":2,"label":"⑤","d":6.47,"t":59.1},{"p":2,"label":"②","d":1.64,"t":41.5},{"p":2,"label":"①","d":0.48,"t":23.0},
{"p":3,"label":"⑤","d":3.47,"t":65.0},{"p":3,"label":"③","d":1.69,"t":54.2},{"p":3,"label":"①","d":1.47,"t":33.6}
],
"box": [
{"p":1,"d":9.21,"d2":13.74,"t":53.9,"t2":67.8},{"p":1,"d":7.44,"d2":13.74,"t":-4.1,"t2":23.5},
{"p":2,"d":9.07,"d2":13.5,"t":54.0,"t2":67.1},{"p":2,"d":7.47,"d2":13.9,"t":-3.3,"t2":24.3},
{"p":3,"d":8.9,"d2":13.65,"t":54.2,"t2":67.6},{"p":3,"d":7.32,"d2":13.84,"t":-1.4,"t2":24.8}
],
"name": [
{"p":1,"text":"VPC-2-50","d":11.48,"t":61.0},{"p":2,"text":"VPC-4-50","d":11.23,"t":60.5},{"p":3,"text":"VPC-4-100","d":11.27,"t":61.0}
],
"info": [
{"p":1,"text":"熱伝達率(W/m²°C)","d":8.08,"t":17.6},{"p":1,"text":"提案解:92.7","d":8.08,"t":9.4},{"p":1,"text":"同定解:110.0","d":8.08,"t":2.1},
{"p":2,"text":"熱伝達率（W/m²°C）","d":8.07,"t":17.6},{"p":2,"text":"提案解:146.4","d":8.07,"t":10.3},{"p":2,"text":"同定解:82.0","d":8.07,"t":3.3},
{"p":3,"text":"熱伝達率（W/m²°C）","d":7.95,"t":18.6},{"p":3,"text":"提案解:92.7","d":7.95,"t":11.5},{"p":3,"text":"同定解:80.0","d":7.95,"t":4.4}
],
"lead": [
{"p":2,"d":4.19,"t":61.9,"d2":3.12,"t2":50.1},{"p":2,"d":5.96,"t":56.4,"d2":4.19,"t2":51.0}
],
"note": [
{"text":"※①～⑤は図－1の温度測定位置","d":13.97,"t":77.5}
]
},
"vconcat": [
{
 "spacing": 28,
 "resolve": {"scale": {"color": "independent", "strokeDash": "independent"}},
 "vconcat": [
 {
  "width": 433, "height": 241,
  "encoding": {
   "x": {"field": "d", "type": "quantitative", "scale": {"domain": [0,14], "nice": false}, "axis": {"values": [0,2,4,6,8,10,12,14], "labels": false, "title": null}},
   "y": {"field": "t", "type": "quantitative", "scale": {"domain": [0,70], "nice": false}, "axis": {"values": [0,10,20,30,40,50,60,70], "title": "コンクリート温度（°C）"}}
  },
  "layer": [
   {"data": {"name": "c"}, "transform": [{"filter": "datum.p==1"}],
    "mark": {"type": "line", "interpolate": "monotone", "strokeWidth": 2.5, "strokeCap": "butt"},
    "encoding": {
     "color": {"field": "s", "type": "nominal", "scale": {"domain": ["実測値","同定解","提案解"], "range": ["#000000","#ff0000","#008000"]},
       "legend": {"orient": "top", "direction": "horizontal", "title": null, "strokeColor": "#000000", "padding": 5.5, "offset": 50, "symbolType": "stroke", "symbolSize": 1600, "symbolStrokeWidth": 2.5, "labelFontSize": 18, "labelFont": "Noto Sans CJK JP", "labelColor": "#000000", "columnPadding": 2, "labelOffset": 40}},
     "strokeDash": {"field": "s", "type": "nominal", "scale": {"domain": ["実測値","同定解","提案解"], "range": [[2,2.5],[1,0],[10,5]]},
       "legend": {"orient": "top", "direction": "horizontal", "title": null, "strokeColor": "#000000", "padding": 5.5, "offset": 50, "symbolType": "stroke", "symbolSize": 1600, "symbolStrokeWidth": 2.5, "labelFontSize": 18, "labelFont": "Noto Sans CJK JP", "labelColor": "#000000", "columnPadding": 2, "labelOffset": 40}},
     "detail": {"field": "k"}
    }},
   {"data": {"name": "box"}, "transform": [{"filter": "datum.p==1"}], "mark": {"type": "rect", "fill": "#ffffff", "stroke": "#000000", "strokeWidth": 1.5},
    "encoding": {"x2": {"field": "d2"}, "y2": {"field": "t2"}}},
   {"data": {"name": "name"}, "transform": [{"filter": "datum.p==1"}], "mark": {"type": "text", "fontSize": 19.5, "align": "center", "baseline": "middle"},
    "encoding": {"text": {"field": "text"}}},
   {"data": {"name": "info"}, "transform": [{"filter": "datum.p==1"}], "mark": {"type": "text", "fontSize": 18, "align": "left", "baseline": "middle"},
    "encoding": {"text": {"field": "text"}}},
   {"data": {"name": "circ"}, "transform": [{"filter": "datum.p==1"}], "mark": {"type": "text", "fontSize": 28, "font": "Noto Sans CJK JP", "align": "center", "baseline": "middle"},
    "encoding": {"text": {"field": "label"}}},
   {"data": {"name": "note"}, "mark": {"type": "text", "fontSize": 20.5, "font": "Noto Sans CJK JP", "align": "right", "baseline": "middle"},
    "encoding": {"text": {"field": "text"}}}
  ]
 },
 {
  "width": 443, "height": 258,
  "encoding": {
   "x": {"field": "d", "type": "quantitative", "scale": {"domain": [0,14], "nice": false}, "axis": {"values": [0,2,4,6,8,10,12,14], "labels": false, "title": null}},
   "y": {"field": "t", "type": "quantitative", "scale": {"domain": [0,70], "nice": false}, "axis": {"values": [0,10,20,30,40,50,60,70], "title": "コンクリート温度（°C）"}}
  },
  "layer": [
   {"data": {"name": "c"}, "transform": [{"filter": "datum.p==2"}],
    "mark": {"type": "line", "interpolate": "monotone", "strokeWidth": 2.5, "strokeCap": "butt"},
    "encoding": {
     "color": {"field": "s", "type": "nominal", "scale": {"domain": ["実測値","同定解","提案解"], "range": ["#000000","#ff0000","#008000"]}, "legend": null},
     "strokeDash": {"field": "s", "type": "nominal", "scale": {"domain": ["実測値","同定解","提案解"], "range": [[2,2.5],[1,0],[10,5]]}, "legend": null},
     "detail": {"field": "k"}
    }},
   {"data": {"name": "lead"}, "mark": {"type": "rule", "color": "#000000", "strokeWidth": 1.2},
    "encoding": {"x2": {"field": "d2"}, "y2": {"field": "t2"}}},
   {"data": {"name": "box"}, "transform": [{"filter": "datum.p==2"}], "mark": {"type": "rect", "fill": "#ffffff", "stroke": "#000000", "strokeWidth": 1.5},
    "encoding": {"x2": {"field": "d2"}, "y2": {"field": "t2"}}},
   {"data": {"name": "name"}, "transform": [{"filter": "datum.p==2"}], "mark": {"type": "text", "fontSize": 19.5, "align": "center", "baseline": "middle"},
    "encoding": {"text": {"field": "text"}}},
   {"data": {"name": "info"}, "transform": [{"filter": "datum.p==2"}], "mark": {"type": "text", "fontSize": 18, "align": "left", "baseline": "middle"},
    "encoding": {"text": {"field": "text"}}},
   {"data": {"name": "circ"}, "transform": [{"filter": "datum.p==2"}], "mark": {"type": "text", "fontSize": 28, "font": "Noto Sans CJK JP", "align": "center", "baseline": "middle"},
    "encoding": {"text": {"field": "label"}}}
  ]
 }
 ]
},
{
  "width": 432, "height": 258,
  "encoding": {
   "x": {"field": "d", "type": "quantitative", "scale": {"domain": [0,14], "nice": false}, "axis": {"values": [0,2,4,6,8,10,12,14], "title": "材齢（day）", "labelPadding": 11, "titlePadding": 13}},
   "y": {"field": "t", "type": "quantitative", "scale": {"domain": [0,70], "nice": false}, "axis": {"values": [0,10,20,30,40,50,60,70], "title": "コンクリート温度（°C）"}}
  },
  "layer": [
   {"data": {"name": "c"}, "transform": [{"filter": "datum.p==3"}],
    "mark": {"type": "line", "interpolate": "monotone", "strokeWidth": 2.5, "strokeCap": "butt"},
    "encoding": {
     "color": {"field": "s", "type": "nominal", "scale": {"domain": ["実測値","同定解","提案解"], "range": ["#000000","#ff0000","#008000"]}, "legend": null},
     "strokeDash": {"field": "s", "type": "nominal", "scale": {"domain": ["実測値","同定解","提案解"], "range": [[2,2.5],[1,0],[10,5]]}, "legend": null},
     "detail": {"field": "k"}
    }},
   {"data": {"name": "box"}, "transform": [{"filter": "datum.p==3"}], "mark": {"type": "rect", "fill": "#ffffff", "stroke": "#000000", "strokeWidth": 1.5},
    "encoding": {"x2": {"field": "d2"}, "y2": {"field": "t2"}}},
   {"data": {"name": "name"}, "transform": [{"filter": "datum.p==3"}], "mark": {"type": "text", "fontSize": 20.5, "align": "center", "baseline": "middle"},
    "encoding": {"text": {"field": "text"}}},
   {"data": {"name": "info"}, "transform": [{"filter": "datum.p==3"}], "mark": {"type": "text", "fontSize": 18, "align": "left", "baseline": "middle"},
    "encoding": {"text": {"field": "text"}}},
   {"data": {"name": "circ"}, "transform": [{"filter": "datum.p==3"}], "mark": {"type": "text", "fontSize": 28, "font": "Noto Sans CJK JP", "align": "center", "baseline": "middle"},
    "encoding": {"text": {"field": "label"}}}
  ]
}
],
"spacing": 25,
"resolve": {"scale": {"color": "independent", "strokeDash": "independent"}}
}
